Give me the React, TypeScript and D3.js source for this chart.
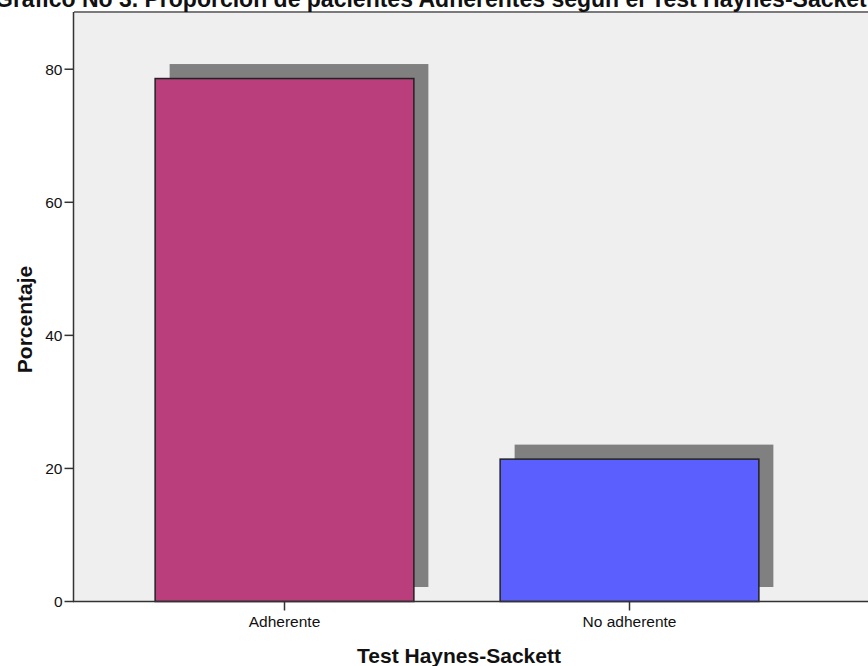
import React from "react";
import * as d3 from "d3";

const categories = ["Adherente", "No adherente"];
const percentages = [78.6, 21.4];
const barColors = ["#BA3E7B", "#5B5FFE"];
const yTicks = [0, 20, 40, 60, 80];

const title = "Gráfico No 3. Proporción de pacientes Adherentes según el Test Haynes-Sackett";
const xTitle = "Test Haynes-Sackett";
const yTitle = "Porcentaje";

const W = 868;
const H = 666;
const plot = { left: 74, top: 12, right: W, bottom: 601.5 };
const FONT = "Arial, 'Liberation Sans', sans-serif";

export default function App() {
  const y = d3.scaleLinear().domain([0, 88.6]).range([plot.bottom, plot.top]);
  const x = d3.scaleBand<string>().domain(categories).range([112, 802]).paddingInner(0).paddingOuter(0);
  const barW = x.bandwidth() * 0.75;
  const shadowDx = 14.5;
  const shadowDy = -14.5;

  return (
    <svg
      width={W}
      height={H}
      style={{ position: "absolute", left: 0, top: 0, background: "#fff" }}
      fontFamily={FONT}
    >
      {/* plot background */}
      <rect x={plot.left} y={plot.top} width={plot.right - plot.left} height={plot.bottom - plot.top} fill="#EFEFEF" />
      <line x1={plot.left} x2={plot.right} y1={plot.top} y2={plot.top} stroke="#7a7a7a" strokeWidth={2} />

      {/* bar shadows */}
      {categories.map((c, i) => {
        const cx = (x(c) as number) + x.bandwidth() / 2;
        return (
          <rect
            key={"s" + c}
            x={cx - barW / 2 + shadowDx}
            y={y(percentages[i]) + shadowDy}
            width={barW}
            height={y(0) - y(percentages[i])}
            fill="#808080"
          />
        );
      })}

      {/* bars */}
      {categories.map((c, i) => {
        const cx = (x(c) as number) + x.bandwidth() / 2;
        return (
          <rect
            key={"b" + c}
            x={cx - barW / 2}
            y={y(percentages[i])}
            width={barW}
            height={y(0) - y(percentages[i])}
            fill={barColors[i]}
            stroke="#222"
            strokeWidth={1.5}
          />
        );
      })}

      {/* y axis */}
      <line x1={plot.left - 0.5} x2={plot.left - 0.5} y1={plot.top} y2={plot.bottom} stroke="#333" strokeWidth={1.5} />
      {yTicks.map((t) => (
        <g key={t} transform={`translate(0,${y(t)})`}>
          <line x1={64.5} x2={plot.left} stroke="#333" strokeWidth={1.5} />
          <text x={62.5} dy="0.35em" textAnchor="end" fontSize={15.5} fill="#111">
            {t}
          </text>
        </g>
      ))}

      {/* x axis */}
      <line x1={plot.left - 1} x2={plot.right} y1={plot.bottom} y2={plot.bottom} stroke="#333" strokeWidth={1.5} />
      {categories.map((c) => {
        const cx = (x(c) as number) + x.bandwidth() / 2;
        return (
          <g key={"t" + c} transform={`translate(${cx},0)`}>
            <line y1={plot.bottom} y2={plot.bottom + 9} stroke="#333" strokeWidth={1.5} />
            <text y={627} textAnchor="middle" fontSize={15.5} fill="#111">
              {c}
            </text>
          </g>
        );
      })}

      {/* titles */}
      <text x={459} y={663} textAnchor="middle" fontSize={21} fontWeight="bold" fill="#111">
        {xTitle}
      </text>
      <text
        transform={`translate(32,319.5) rotate(-90)`}
        textAnchor="middle"
        fontSize={21}
        fontWeight="bold"
        fill="#111"
      >
        {yTitle}
      </text>
      <text x={-5} y={7} fontSize={23} fontWeight="bold" fill="#111">
        {title}
      </text>
    </svg>
  );
}
